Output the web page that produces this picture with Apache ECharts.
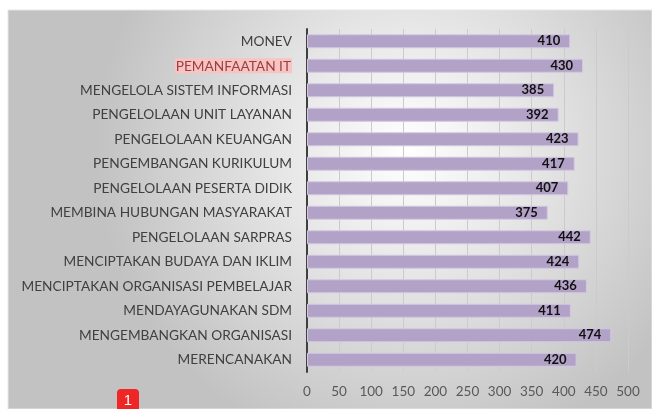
<!DOCTYPE html>
<html>
<head>
<meta charset="utf-8">
<script src="https://cdn.jsdelivr.net/npm/echarts@6/dist/echarts.min.js"></script>
<style>
  html, body { margin: 0; padding: 0; background: #fff; }
  #main { width: 652px; height: 409px; }
</style>
</head>
<body>
<div id="main"></div>
<script>
// kategori dari atas ke bawah
var categories = [
  'MONEV',
  'PEMANFAATAN IT',
  'MENGELOLA SISTEM INFORMASI',
  'PENGELOLAAN UNIT LAYANAN',
  'PENGELOLAAN KEUANGAN',
  'PENGEMBANGAN KURIKULUM',
  'PENGELOLAAN PESERTA DIDIK',
  'MEMBINA HUBUNGAN MASYARAKAT',
  'PENGELOLAAN SARPRAS',
  'MENCIPTAKAN BUDAYA DAN IKLIM',
  'MENCIPTAKAN ORGANISASI PEMBELAJAR',
  'MENDAYAGUNAKAN SDM',
  'MENGEMBANGKAN ORGANISASI',
  'MERENCANAKAN'
];
var scores = [410, 430, 385, 392, 423, 417, 407, 375, 442, 424, 436, 411, 474, 420];
var highlighted = 'PEMANFAATAN IT';
var badgeText = '1';

var myChart = echarts.init(document.getElementById('main'));
var option = {
  animation: false,
  backgroundColor: '#ffffff',
  graphic: [
    {
      type: 'rect',
      z: -10,
      shape: { x: 8, y: 10, width: 644, height: 399 },
      style: {
        fill: new echarts.graphic.RadialGradient(0.62, 0.35, 0.78, [
          { offset: 0, color: '#ffffff' },
          { offset: 1, color: '#c2c2c2' }
        ]),
        stroke: '#e6e6e6',
        lineWidth: 1
      }
    },
    {
      type: 'group',
      left: 117,
      top: 389,
      children: [
        {
          type: 'rect',
          shape: { x: 0, y: 0, width: 22, height: 26, r: 4 },
          style: { fill: '#ee2626' }
        },
        {
          type: 'text',
          x: 11,
          y: 12,
          style: {
            text: badgeText,
            fill: '#ffffff',
            font: '15px "Liberation Sans", sans-serif',
            align: 'center',
            verticalAlign: 'middle'
          }
        }
      ]
    }
  ],
  grid: { left: 307, right: 24, top: 29, bottom: 37 },
  xAxis: {
    type: 'value',
    min: 0,
    max: 500,
    interval: 50,
    axisLine: { show: false },
    axisTick: { show: false },
    splitLine: { show: true, lineStyle: { color: '#cbcbcb', width: 1 } },
    axisLabel: {
      color: '#595959',
      fontSize: 13.5,
      fontFamily: 'Lato',
      margin: 13
    }
  },
  yAxis: {
    type: 'category',
    data: categories,
    inverse: true,
    axisTick: { show: false },
    axisLine: { show: true, lineStyle: { color: '#404040', width: 2 } },
    axisLabel: {
      margin: 15,
      color: '#404040',
      fontSize: 13.7,
      fontFamily: 'Lato',
      formatter: function (v) {
        return v === highlighted ? '{hl|' + v + '}' : v;
      },
      rich: {
        hl: {
          color: '#9c3f3f',
          fontSize: 13.7,
          fontFamily: 'Lato',
          backgroundColor: '#f7c3c3',
          padding: [1, 1, 0, 1]
        }
      }
    }
  },
  series: [
    {
      type: 'bar',
      data: scores,
      barWidth: 14,
      itemStyle: { color: '#b3a2c7', borderColor: '#d2c8e0', borderWidth: 1 },
      label: {
        show: true,
        position: 'insideRight',
        distance: 10,
        color: '#111111',
        fontSize: 13,
        fontWeight: 'bold',
        fontFamily: 'Lato'
      }
    }
  ]
};
myChart.setOption(option);
</script>
</body>
</html>
